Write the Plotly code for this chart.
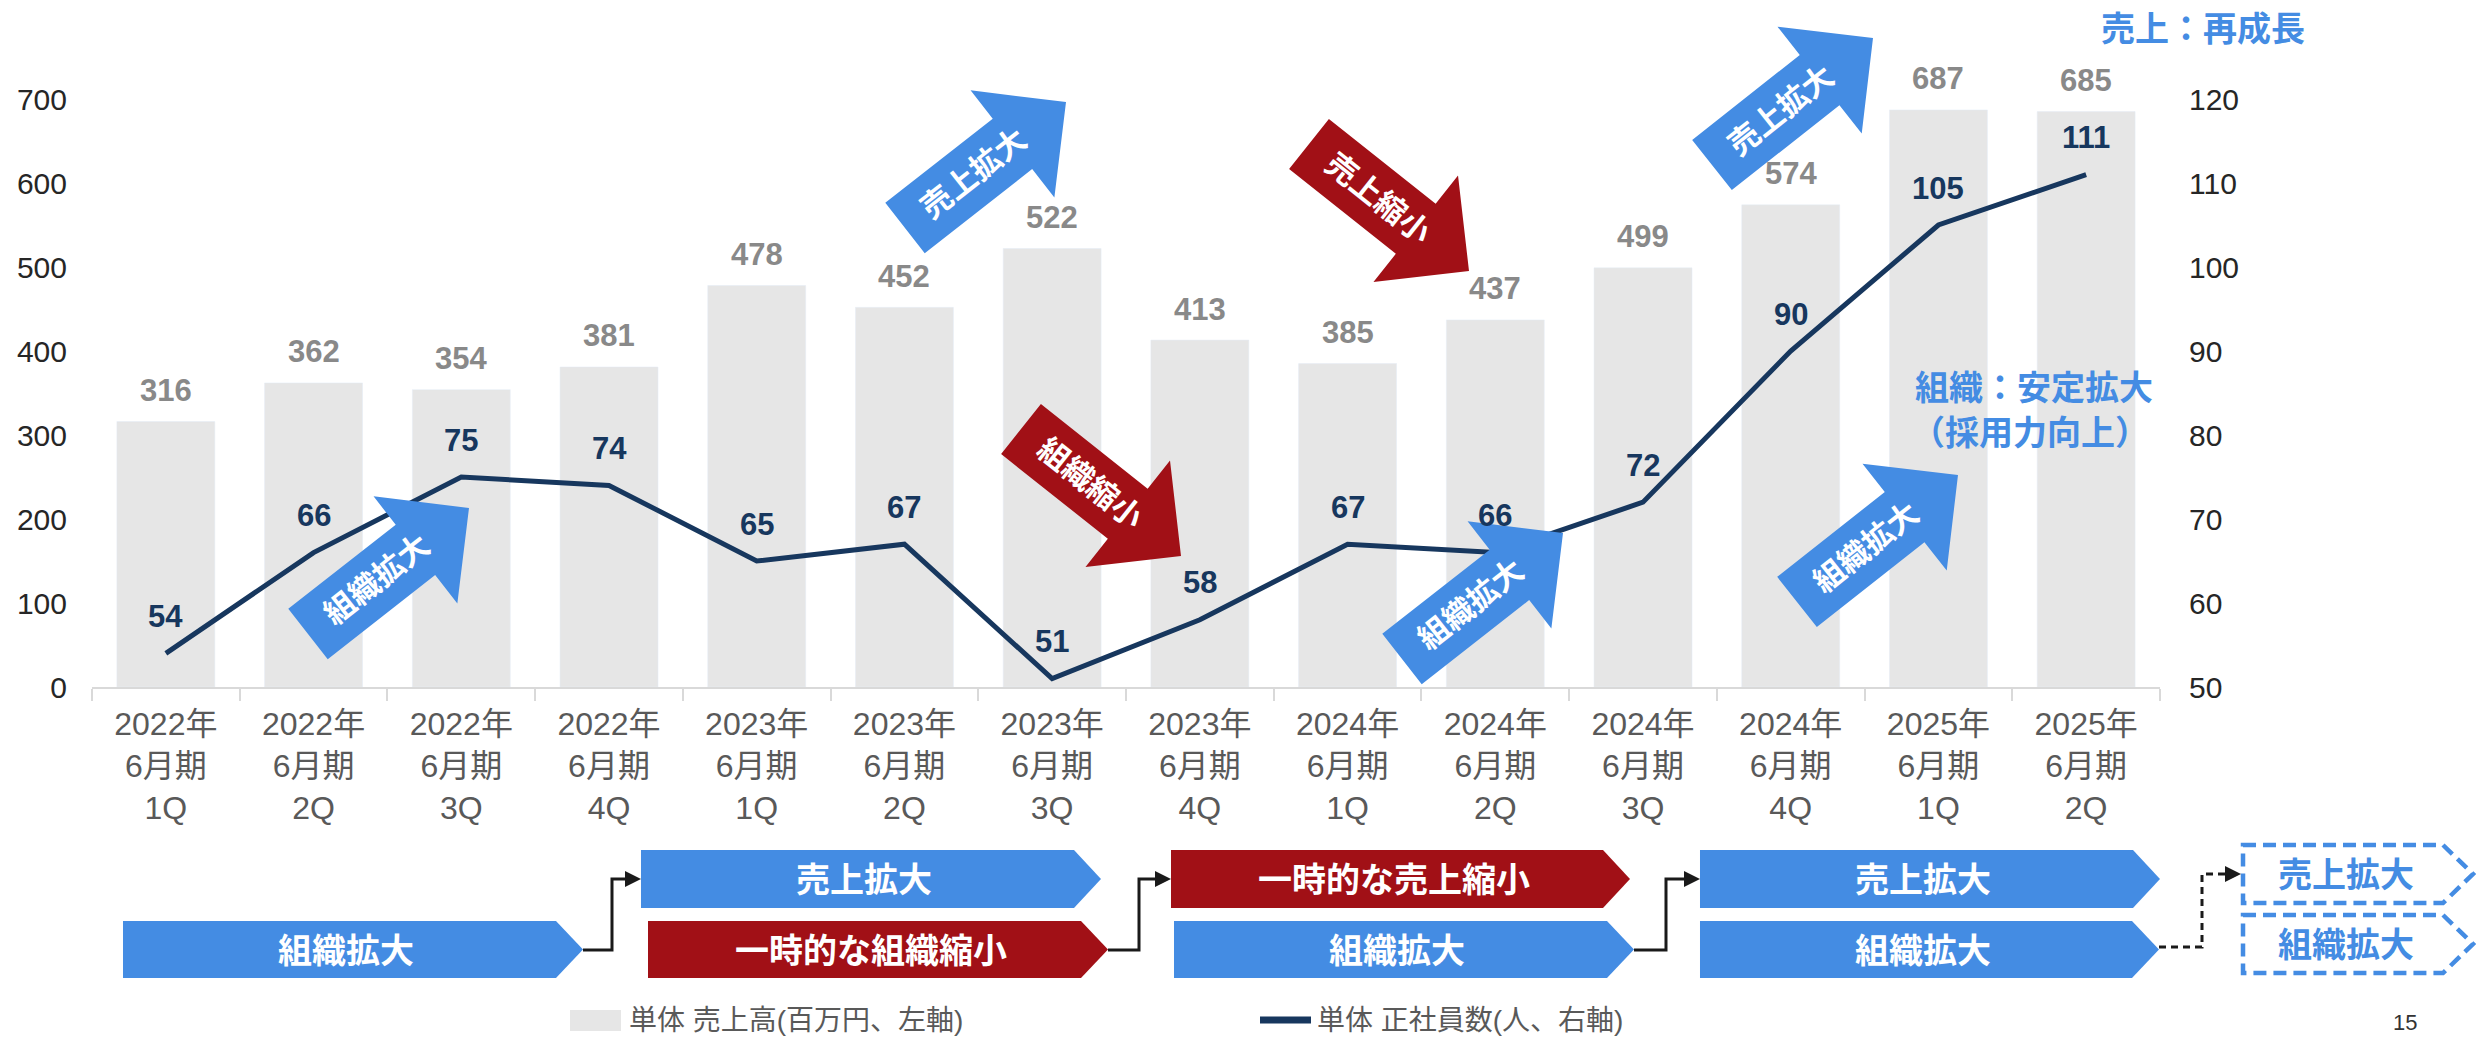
import math

import plotly.graph_objects as go

# --- data -----------------------------------------------------------------
period_labels = [
    "2022年<br>6月期<br>1Q", "2022年<br>6月期<br>2Q", "2022年<br>6月期<br>3Q", "2022年<br>6月期<br>4Q",
    "2023年<br>6月期<br>1Q", "2023年<br>6月期<br>2Q", "2023年<br>6月期<br>3Q", "2023年<br>6月期<br>4Q",
    "2024年<br>6月期<br>1Q", "2024年<br>6月期<br>2Q", "2024年<br>6月期<br>3Q", "2024年<br>6月期<br>4Q",
    "2025年<br>6月期<br>1Q", "2025年<br>6月期<br>2Q",
]
sales = [316, 362, 354, 381, 478, 452, 522, 413, 385, 437, 499, 574, 687, 685]
headcount = [54, 66, 75, 74, 65, 67, 51, 58, 67, 66, 72, 90, 105, 111]

sales_name = "単体 売上高(百万円、左軸)"
headcount_name = "単体 正社員数(人、右軸)"

# --- style ----------------------------------------------------------------
FONT = "Arial, 'Liberation Sans', 'Noto Sans CJK JP', sans-serif"
BLUE = "#448CE3"
RED = "#A11016"
NAVY = "#17375E"
BAR_GRAY = "#E6E6E6"
LABEL_GRAY = "#898989"
TEXT_GRAY = "#595959"

W, H = 2476, 1039
PLOT_L, PLOT_R, PLOT_T, PLOT_B = 92, 2160, 99, 687


def to_paper(x, y):
    return (x - PLOT_L) / (PLOT_R - PLOT_L), (PLOT_B - y) / (PLOT_B - PLOT_T)


def path_from(points, close=True):
    parts = []
    for i, (x, y) in enumerate(points):
        px, py = to_paper(x, y)
        parts.append(("M" if i == 0 else "L") + f"{px:.5f},{py:.5f}")
    return " ".join(parts) + (" Z" if close else "")


def text_at(x, y, text, size, color, bold=True, angle=0, xanchor="center", yanchor="middle"):
    px, py = to_paper(x, y)
    return dict(
        x=px, y=py, xref="paper", yref="paper", text=f"<b>{text}</b>" if bold else text,
        showarrow=False, textangle=angle, xanchor=xanchor, yanchor=yanchor,
        font=dict(size=size, color=color, family=FONT),
    )


fig = go.Figure()
fig.add_trace(
    go.Bar(x=period_labels, y=sales, name=sales_name, marker_color=BAR_GRAY, hoverinfo="skip")
)
fig.add_trace(
    go.Scatter(
        x=period_labels, y=headcount, name=headcount_name, yaxis="y2", mode="lines",
        line=dict(color=NAVY, width=5), hoverinfo="skip",
    )
)

annotations = []
shapes = []

# value labels
for label, value in zip(period_labels, sales):
    annotations.append(dict(
        x=label, y=value, xref="x", yref="y", text=f"<b>{value}</b>", showarrow=False,
        yshift=31, font=dict(size=31, color=LABEL_GRAY, family=FONT),
    ))
for label, value in zip(period_labels, headcount):
    annotations.append(dict(
        x=label, y=value, xref="x", yref="y2", text=f"<b>{value}</b>", showarrow=False,
        yshift=37, font=dict(size=31, color=NAVY, family=FONT),
    ))

# big block arrows drawn over the chart (tail centre, tip, colour, text)
block_arrows = [
    ((308, 634), (469, 508), BLUE, "組織拡大"),
    ((905, 228), (1066, 102), BLUE, "売上拡大"),
    ((1021, 429), (1181, 556), RED, "組織縮小"),
    ((1309, 144), (1469, 271), RED, "売上縮小"),
    ((1402, 659), (1563, 533), BLUE, "組織拡大"),
    ((1712, 165), (1873, 38), BLUE, "売上拡大"),
    ((1797, 602), (1958, 475), BLUE, "組織拡大"),
]
for (tx, ty), (hx, hy), color, label in block_arrows:
    length = math.hypot(hx - tx, hy - ty)
    ux, uy = (hx - tx) / length, (hy - ty) / length
    nx, ny = -uy, ux
    shaft, head, head_len = 32, 68, 68
    neck_x, neck_y = hx - ux * head_len, hy - uy * head_len
    pts = [
        (tx + nx * shaft, ty + ny * shaft),
        (neck_x + nx * shaft, neck_y + ny * shaft),
        (neck_x + nx * head, neck_y + ny * head),
        (hx, hy),
        (neck_x - nx * head, neck_y - ny * head),
        (neck_x - nx * shaft, neck_y - ny * shaft),
        (tx - nx * shaft, ty - ny * shaft),
    ]
    shapes.append(dict(type="path", xref="paper", yref="paper", path=path_from(pts),
                       fillcolor=color, line=dict(width=0), layer="above"))
    cx, cy = tx + ux * length * 0.43, ty + uy * length * 0.43
    annotations.append(text_at(cx, cy, label, 31, "white",
                               angle=math.degrees(math.atan2(uy, ux))))

# process flow boxes (x0, x1, y0, y1, colour, text)
ROW1 = (850, 908)
ROW2 = (921, 978)
flow_boxes = [
    (123, 583, ROW2, BLUE, "組織拡大"),
    (641, 1101, ROW1, BLUE, "売上拡大"),
    (648, 1108, ROW2, RED, "一時的な組織縮小"),
    (1171, 1630, ROW1, RED, "一時的な売上縮小"),
    (1174, 1634, ROW2, BLUE, "組織拡大"),
    (1700, 2160, ROW1, BLUE, "売上拡大"),
    (1700, 2159, ROW2, BLUE, "組織拡大"),
]
POINT = 27
for x0, x1, (y0, y1), color, label in flow_boxes:
    ym = (y0 + y1) / 2
    pts = [(x0, y0), (x1 - POINT, y0), (x1, ym), (x1 - POINT, y1), (x0, y1)]
    shapes.append(dict(type="path", xref="paper", yref="paper", path=path_from(pts),
                       fillcolor=color, line=dict(width=0)))
    annotations.append(text_at((x0 + x1 - POINT / 2) / 2, ym + 1, label, 34, "white"))

# dashed outlook boxes
for (y0, y1), label in [((845, 903), "売上拡大"), ((915, 973), "組織拡大")]:
    x0, x1 = 2243, 2473
    ym = (y0 + y1) / 2
    pts = [(x0, y0), (x1 - 30, y0), (x1, ym), (x1 - 30, y1), (x0, y1)]
    shapes.append(dict(type="path", xref="paper", yref="paper", path=path_from(pts),
                       fillcolor="white", line=dict(width=4.5, color=BLUE, dash="13px,7px")))
    annotations.append(text_at((x0 + x1 - 15) / 2 - 5, ym + 1, label, 34, BLUE))

# elbow connectors (start x, elbow x, start y, end y, end x, dashed)
connectors = [
    (583, 612, 950, 879, 641, False),
    (1108, 1139, 950, 879, 1171, False),
    (1634, 1666, 950, 879, 1700, False),
    (2159, 2202, 947, 874, 2241, True),
]
for sx, ex, sy, ey, tx, dashed in connectors:
    pts = [(sx, sy), (ex, sy), (ex, ey), (tx - 14, ey)]
    shapes.append(dict(type="path", xref="paper", yref="paper", path=path_from(pts, close=False),
                       line=dict(width=3, color="#1A1A1A", dash="7px,5px" if dashed else "solid")))
    head_pts = [(tx, ey), (tx - 16, ey - 8), (tx - 16, ey + 8)]
    shapes.append(dict(type="path", xref="paper", yref="paper", path=path_from(head_pts),
                       fillcolor="#1A1A1A", line=dict(width=0)))

# side notes
annotations.append(text_at(2203, 29, "売上：再成長", 34, BLUE))
annotations.append(text_at(2034, 388, "組織：安定拡大", 34, BLUE))
annotations.append(text_at(2030, 433, "（採用力向上）", 34, BLUE))

# legend (drawn by hand to match the slide)
sq = path_from([(570, 1010), (621, 1010), (621, 1031), (570, 1031)])
shapes.append(dict(type="path", xref="paper", yref="paper", path=sq, fillcolor=BAR_GRAY, line=dict(width=0)))
annotations.append(text_at(627, 1020, sales_name, 28, TEXT_GRAY, bold=False, xanchor="left"))
shapes.append(dict(type="path", xref="paper", yref="paper",
                   path=path_from([(1260, 1020), (1311, 1020)], close=False),
                   line=dict(width=7, color=NAVY)))
annotations.append(text_at(1315, 1020, headcount_name, 28, TEXT_GRAY, bold=False, xanchor="left"))

# page number
annotations.append(text_at(2405, 1037, "15", 22, "#333333", bold=False, yanchor="bottom"))

fig.update_layout(
    width=W,
    height=H,
    autosize=False,
    margin=dict(l=PLOT_L, r=W - PLOT_R, t=PLOT_T, b=H - PLOT_B, pad=0),
    paper_bgcolor="white",
    plot_bgcolor="white",
    font=dict(family=FONT, size=30, color="#262626"),
    showlegend=False,
    bargap=0.337,
    annotations=annotations,
    shapes=shapes,
    xaxis=dict(
        type="category", range=[-0.5, 13.5], showline=True, linecolor="#D9D9D9", linewidth=2,
        ticks="outside", tickson="boundaries", ticklen=12, tickcolor="#D9D9D9", tickwidth=2,
        tickfont=dict(size=32, color=TEXT_GRAY), showgrid=False, zeroline=False, automargin=False,
        ticklabelstandoff=8,
    ),
    yaxis=dict(
        range=[0, 700], dtick=100, showgrid=False, zeroline=False, showline=False,
        tickfont=dict(size=30, color="#262626"), automargin=False, ticklabelstandoff=24,
    ),
    yaxis2=dict(
        range=[50, 120], dtick=10, overlaying="y", side="right", showgrid=False, zeroline=False,
        showline=False, tickfont=dict(size=30, color="#262626"), automargin=False, ticklabelstandoff=28,
    ),
)

fig.write_html(
    "out.html",
    config={"displayModeBar": False},
    post_script="document.body.style.margin='0';",
)
